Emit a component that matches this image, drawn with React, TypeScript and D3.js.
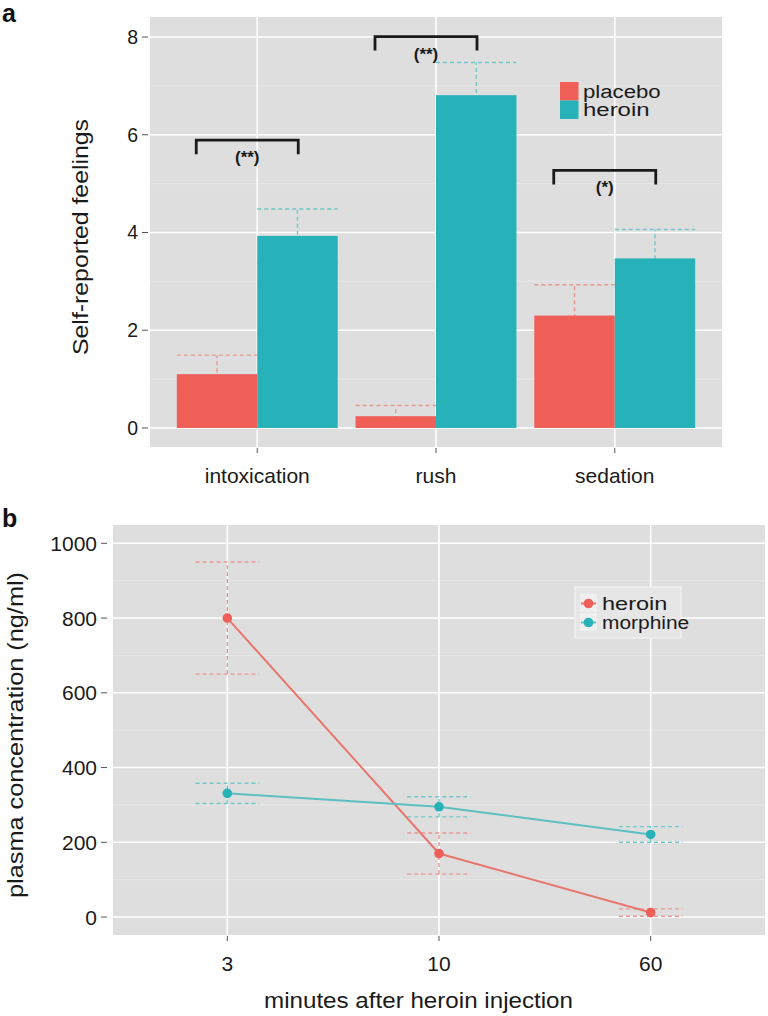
import React from "react";
import * as d3 from "d3";

// ---------- Panel a data ----------
const categoriesA = ["intoxication", "rush", "sedation"];
const groupsA = ["placebo", "heroin"];
const placeboMean = [1.1, 0.24, 2.3];
const placeboErr = [0.39, 0.22, 0.63];
const heroinMean = [3.93, 6.81, 3.47];
const heroinErr = [0.55, 0.67, 0.59];
const ticksA = [0, 2, 4, 6, 8];
const minorTicksA = [1, 3, 5, 7];
const bracketLevel = [5.89, 8.01, 5.27];
const bracketLabel = ["(**)", "(**)", "(*)"];

// ---------- Panel b data ----------
const timesB = ["3", "10", "60"];
const seriesB = ["heroin", "morphine"];
const heroinConc = [800, 170, 12];
const heroinConcErr = [150, 55, 10];
const morphineConc = [331, 295, 221];
const morphineConcErr = [27, 27, 21];
const ticksB = [0, 200, 400, 600, 800, 1000];
const minorTicksB = [100, 300, 500, 700, 900];

const RED = "#EF5F57";
const TEAL = "#27B1B8";
const RED_LIGHT = "#E99891";
const TEAL_LIGHT = "#72C8CB";
const RED_LINE = "#E8766D";
const TEAL_LINE = "#5CC0C3";
const PANEL = "#DEDEDE";
const MINOR = "#E7E7E7";
const FONT = "'Liberation Sans', Arial, Helvetica, sans-serif";
const TEXT = "#1a1a1a";

export default function App() {
  // Panel a scales
  const pA = { l: 150, r: 722, t: 17, b: 447 };
  const xA = d3.scaleBand<string>().domain(categoriesA).range([pA.l, pA.r]).paddingInner(0).paddingOuter(0.1);
  const step = xA.step();
  const xSub = d3.scaleBand<string>().domain(groupsA).range([0, step * 0.9]);
  const yA = d3.scaleLinear().domain([-0.39, 8.41]).range([pA.b, pA.t]);
  const center = (c: string) => (xA(c) as number) + step / 2;

  const barsA = categoriesA.flatMap((c, i) => [
    { c, g: "placebo", v: placeboMean[i], e: placeboErr[i], fill: RED, light: RED_LIGHT },
    { c, g: "heroin", v: heroinMean[i], e: heroinErr[i], fill: TEAL, light: TEAL_LIGHT },
  ]);

  // Panel b scales
  const pB = { l: 113, r: 765, t: 525, b: 935 };
  const xB = d3.scalePoint<string>().domain(timesB).range([pB.l, pB.r]).padding(0.54);
  const yB = d3.scaleLinear().domain([-48, 1049]).range([pB.b, pB.t]);
  const lineGen = d3
    .line<[string, number]>()
    .x((d) => xB(d[0]) as number)
    .y((d) => yB(d[1]));
  const seriesData = [
    { name: seriesB[0], vals: heroinConc, errs: heroinConcErr, color: RED, light: RED_LIGHT, line: RED_LINE },
    { name: seriesB[1], vals: morphineConc, errs: morphineConcErr, color: TEAL, light: TEAL_LIGHT, line: TEAL_LINE },
  ];
  const capHalf = xB.step() * 0.15;

  return (
    <svg
      width={768}
      height={1016}
      style={{ position: "absolute", left: 0, top: 0, background: "#fff" }}
      fontFamily={FONT}
    >
      {/* ===== Panel a ===== */}
      <text x={2} y={22} fontSize={25} fontWeight="bold" fill="#111">a</text>
      <rect x={pA.l} y={pA.t} width={pA.r - pA.l} height={pA.b - pA.t} fill={PANEL} />
      {minorTicksA.map((t) => (
        <line key={"ma" + t} x1={pA.l} x2={pA.r} y1={yA(t)} y2={yA(t)} stroke={MINOR} strokeWidth={1} />
      ))}
      {ticksA.map((t) => (
        <line key={"ga" + t} x1={pA.l} x2={pA.r} y1={yA(t)} y2={yA(t)} stroke="#fff" strokeWidth={1.6} />
      ))}
      {categoriesA.map((c) => (
        <line key={"gx" + c} x1={center(c)} x2={center(c)} y1={pA.t} y2={pA.b} stroke="#fff" strokeWidth={1.6} />
      ))}
      {/* error bars (behind bars) */}
      {barsA.map((d) => {
        const x0 = (xA(d.c) as number) + step * 0.05 + (xSub(d.g) as number);
        const w = xSub.bandwidth();
        const cx = x0 + w / 2;
        return (
          <g key={"ea" + d.c + d.g} stroke={d.light} strokeWidth={1.4} strokeDasharray="4,3">
            <line x1={cx} x2={cx} y1={yA(d.v - d.e)} y2={yA(d.v + d.e)} />
            <line x1={x0} x2={x0 + w} y1={yA(d.v + d.e)} y2={yA(d.v + d.e)} />
            <line x1={x0} x2={x0 + w} y1={yA(d.v - d.e)} y2={yA(d.v - d.e)} />
          </g>
        );
      })}
      {barsA.map((d) => {
        const x0 = (xA(d.c) as number) + step * 0.05 + (xSub(d.g) as number);
        return (
          <rect
            key={"ba" + d.c + d.g}
            x={x0}
            y={yA(d.v)}
            width={xSub.bandwidth()}
            height={yA(0) - yA(d.v)}
            fill={d.fill}
          />
        );
      })}
      {/* significance brackets */}
      {categoriesA.map((c, i) => {
        const x1 = center(c) - 61;
        const x2 = center(c) + 41;
        const yb = yA(bracketLevel[i]);
        return (
          <g key={"br" + c}>
            <path
              d={`M${x1},${yb + 14}V${yb}H${x2}V${yb + 14}`}
              fill="none"
              stroke="#1a1a1a"
              strokeWidth={2.8}
            />
            <text x={(x1 + x2) / 2} y={yb + 23} fontSize={17} fontWeight="bold" textAnchor="middle" fill={TEXT}>
              {bracketLabel[i]}
            </text>
          </g>
        );
      })}
      {/* y axis a */}
      {ticksA.map((t) => (
        <g key={"ta" + t}>
          <line x1={142} x2={148} y1={yA(t)} y2={yA(t)} stroke="#555" strokeWidth={1} />
          <text x={138} y={yA(t) + 7} fontSize={19.5} textAnchor="end" fill={TEXT}>{t}</text>
        </g>
      ))}
      {categoriesA.map((c) => (
        <g key={"tx" + c}>
          <line x1={center(c)} x2={center(c)} y1={pA.b + 1} y2={pA.b + 6} stroke="#555" strokeWidth={1} />
          <text x={center(c)} y={483} fontSize={21} textAnchor="middle" fill={TEXT}>{c}</text>
        </g>
      ))}
      <text
        transform={`translate(88,237) rotate(-90)`}
        fontSize={22.5}
        textAnchor="middle"
        textLength={236}
        lengthAdjust="spacingAndGlyphs"
        fill={TEXT}
      >
        Self-reported feelings
      </text>
      {/* legend a */}
      {groupsA.map((g, i) => (
        <g key={"la" + g}>
          <rect x={560} y={82 + i * 18.5} width={18.5} height={18.5} fill={i === 0 ? RED : TEAL} />
          <text x={583} y={97.5 + i * 18.5} fontSize={18} textLength={g.length * 11.1} lengthAdjust="spacingAndGlyphs" fill={TEXT}>{g}</text>
        </g>
      ))}

      {/* ===== Panel b ===== */}
      <text x={2} y={527} fontSize={25} fontWeight="bold" fill="#111">b</text>
      <rect x={pB.l} y={pB.t} width={pB.r - pB.l} height={pB.b - pB.t} fill={PANEL} />
      {minorTicksB.map((t) => (
        <line key={"mb" + t} x1={pB.l} x2={pB.r} y1={yB(t)} y2={yB(t)} stroke={MINOR} strokeWidth={1} />
      ))}
      {ticksB.map((t) => (
        <line key={"gb" + t} x1={pB.l} x2={pB.r} y1={yB(t)} y2={yB(t)} stroke="#fff" strokeWidth={1.6} />
      ))}
      {timesB.map((t) => (
        <line key={"gbx" + t} x1={xB(t)} x2={xB(t)} y1={pB.t} y2={pB.b} stroke="#fff" strokeWidth={1.6} />
      ))}
      {seriesData.map((s) => (
        <g key={"eb" + s.name} stroke={s.light} strokeWidth={1.4} strokeDasharray="4,3">
          {timesB.map((t, i) => {
            const cx = xB(t) as number;
            return (
              <g key={t}>
                <line x1={cx} x2={cx} y1={yB(s.vals[i] - s.errs[i])} y2={yB(s.vals[i] + s.errs[i])} />
                <line x1={cx - capHalf} x2={cx + capHalf} y1={yB(s.vals[i] + s.errs[i])} y2={yB(s.vals[i] + s.errs[i])} />
                <line x1={cx - capHalf} x2={cx + capHalf} y1={yB(s.vals[i] - s.errs[i])} y2={yB(s.vals[i] - s.errs[i])} />
              </g>
            );
          })}
        </g>
      ))}
      {seriesData.map((s) => (
        <path
          key={"ln" + s.name}
          d={lineGen(timesB.map((t, i) => [t, s.vals[i]] as [string, number])) || ""}
          fill="none"
          stroke={s.line}
          strokeWidth={2}
        />
      ))}
      {seriesData.map((s) =>
        timesB.map((t, i) => (
          <circle key={"pt" + s.name + t} cx={xB(t)} cy={yB(s.vals[i])} r={4.8} fill={s.color} />
        ))
      )}
      {ticksB.map((t) => (
        <g key={"tb" + t}>
          <line x1={101} x2={107} y1={yB(t)} y2={yB(t)} stroke="#555" strokeWidth={1} />
          <text x={97} y={yB(t) + 7.5} fontSize={21} textAnchor="end" fill={TEXT}>{t}</text>
        </g>
      ))}
      {timesB.map((t) => (
        <g key={"txb" + t}>
          <line x1={xB(t)} x2={xB(t)} y1={pB.b + 1} y2={pB.b + 6} stroke="#555" strokeWidth={1} />
          <text x={xB(t)} y={971} fontSize={21} textAnchor="middle" fill={TEXT}>{t}</text>
        </g>
      ))}
      <text
        x={418.5}
        y={1008}
        fontSize={22.5}
        textAnchor="middle"
        textLength={309}
        lengthAdjust="spacingAndGlyphs"
        fill={TEXT}
      >
        minutes after heroin injection
      </text>
      <text
        transform={`translate(23,735) rotate(-90)`}
        fontSize={22.5}
        textAnchor="middle"
        textLength={326}
        lengthAdjust="spacingAndGlyphs"
        fill={TEXT}
      >
        plasma concentration (ng/ml)
      </text>
      {/* legend b */}
      <rect x={575} y={587} width={106} height={51} fill="#E6E6E6" stroke="#F2F2F2" strokeWidth={1.2} />
      {seriesData.map((s, i) => (
        <g key={"lb" + s.name}>
          <rect x={580} y={594 + i * 19} width={17} height={18} fill="#EFEFEF" />
          <line x1={581} x2={596} y1={603.5 + i * 19} y2={603.5 + i * 19} stroke={s.line} strokeWidth={2} />
          <circle cx={588.5} cy={603.5 + i * 19} r={4.8} fill={s.color} />
          <text x={602} y={610 + i * 19} fontSize={18} textLength={s.name.length * 10.9} lengthAdjust="spacingAndGlyphs" fill={TEXT}>{s.name}</text>
        </g>
      ))}
    </svg>
  );
}
